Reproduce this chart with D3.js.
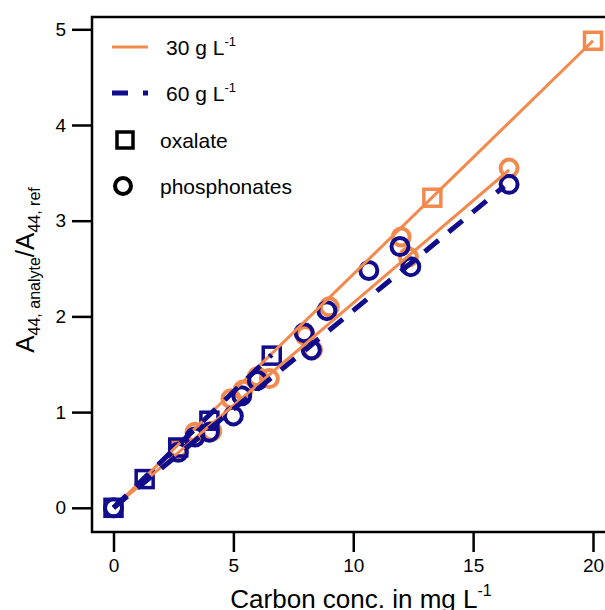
<!doctype html>
<html>
<head>
<meta charset="utf-8">
<style>
  body { margin: 0; background: #fff; }
  svg { display: block; font-family: "Liberation Sans", Arial, sans-serif; }
</style>
<script src="https://cdn.jsdelivr.net/npm/d3@7"></script>
</head>
<body>
<svg id="chart" width="605" height="610"></svg>
<script>
// data
var oxalate30X = [13.3, 20];
var oxalate30Y = [3.24, 4.88];
var oxalate60X = [0, 1.3, 2.7, 4.0, 6.6];
var oxalate60Y = [0, 0.30, 0.63, 0.91, 1.59];
var phos30X = [2.7, 3.4, 4.1, 4.9, 5.4, 6.0, 6.5, 8.0, 8.3, 9.0, 12.0, 12.3, 16.5];
var phos30Y = [0.62, 0.79, 0.80, 1.14, 1.23, 1.37, 1.35, 1.80, 1.65, 2.10, 2.83, 2.62, 3.55];
var phos60X = [0, 2.7, 3.4, 4.0, 5.0, 5.35, 6.0, 7.95, 8.25, 8.9, 10.65, 11.95, 12.4, 16.5];
var phos60Y = [0, 0.58, 0.74, 0.79, 0.96, 1.17, 1.33, 1.83, 1.65, 2.06, 2.48, 2.73, 2.52, 3.38];
// fit lines [x0, y0, x1, y1]
var fitOx30 = [0, 0, 20, 4.88];
var fitPh30 = [0, 0, 16.5, 3.53];
var fitOx60 = [0, 0, 6.6, 1.6];
var fitPh60 = [0, 0, 16.3, 3.36];
var xTicks = [0, 5, 10, 15, 20];
var yTicks = [0, 1, 2, 3, 4, 5];

var orange = "#f28a4e";
var navy = "#110c8c";

var svg = d3.select("#chart");
var frameL = 92, frameT = 17, frameB = 532, frameR = 608;

var x = d3.scaleLinear().domain([0, 20]).range([113.5, 593]);
var y = d3.scaleLinear().domain([0, 5]).range([507.8, 29.3]);

function pts(xs, ys) { return xs.map(function(v, i) { return [v, ys[i]]; }); }

// axes
var xAxis = svg.append("g").attr("transform", "translate(0," + (frameB + 1) + ")")
  .call(d3.axisBottom(x).tickValues(xTicks).tickSize(19).tickPadding(7).tickFormat(d3.format("d")));
var yAxis = svg.append("g").attr("transform", "translate(" + (frameL - 1) + ",0)")
  .call(d3.axisLeft(y).tickValues(yTicks).tickSize(19).tickPadding(6).tickFormat(d3.format("d")));
[xAxis, yAxis].forEach(function(a) {
  a.attr("font-size", 19).attr("font-family", "Liberation Sans, Arial, sans-serif");
  a.select(".domain").remove();
  a.selectAll(".tick line").attr("stroke", "#000").attr("stroke-width", 2.5);
  a.selectAll(".tick text").attr("fill", "#000");
});

svg.append("rect").attr("x", frameL).attr("y", frameT)
  .attr("width", frameR - frameL).attr("height", frameB - frameT)
  .attr("fill", "none").attr("stroke", "#000").attr("stroke-width", 2.5);

var plot = svg.append("g");

function fitLine(f, color, dash) {
  plot.append("line")
    .attr("x1", x(f[0])).attr("y1", y(f[1]))
    .attr("x2", x(f[2])).attr("y2", y(f[3]))
    .attr("stroke", color).attr("stroke-width", dash ? 5 : 3)
    .attr("stroke-dasharray", dash || null);
}
function squares(data, color) {
  plot.selectAll(null).data(data).enter().append("rect")
    .attr("x", function(d) { return x(d[0]) - 8.5; })
    .attr("y", function(d) { return y(d[1]) - 8.5; })
    .attr("width", 17).attr("height", 17)
    .attr("fill", "none").attr("stroke", color).attr("stroke-width", 3.5);
}
function circles(data, color) {
  plot.selectAll(null).data(data).enter().append("circle")
    .attr("cx", function(d) { return x(d[0]); })
    .attr("cy", function(d) { return y(d[1]); })
    .attr("r", 8.5)
    .attr("fill", "none").attr("stroke", color).attr("stroke-width", 4);
}

circles(pts(phos30X, phos30Y), orange);
squares(pts(oxalate30X, oxalate30Y), orange);
circles(pts(phos60X, phos60Y), navy);
squares(pts(oxalate60X, oxalate60Y), navy);
fitLine(fitOx30, orange);
fitLine(fitPh30, orange);
fitLine(fitOx60, navy, "18,13");
fitLine(fitPh60, navy, "18,13");

// legend
var lg = svg.append("g");
lg.append("line").attr("x1", 112).attr("x2", 148).attr("y1", 47).attr("y2", 47)
  .attr("stroke", orange).attr("stroke-width", 3);
lg.append("line").attr("x1", 112).attr("x2", 148).attr("y1", 93).attr("y2", 93)
  .attr("stroke", navy).attr("stroke-width", 5).attr("stroke-dasharray", "16,15");
lg.append("rect").attr("x", 117).attr("y", 132).attr("width", 16).attr("height", 16)
  .attr("fill", "none").attr("stroke", "#000").attr("stroke-width", 3.5);
lg.append("circle").attr("cx", 123).attr("cy", 186).attr("r", 8)
  .attr("fill", "none").attr("stroke", "#000").attr("stroke-width", 4);

function unitText(g, tx, ty, main) {
  var t = g.append("text").attr("x", tx).attr("y", ty).attr("font-size", 21).attr("fill", "#000");
  t.append("tspan").text(main);
  t.append("tspan").attr("font-size", 13).attr("dy", -9).text("-1");
  return t;
}
unitText(lg, 166, 55, "30 g L");
unitText(lg, 166, 101, "60 g L");
lg.append("text").attr("x", 160).attr("y", 148).attr("font-size", 21).text("oxalate");
lg.append("text").attr("x", 160).attr("y", 194).attr("font-size", 21).text("phosphonates");

// axis titles
var xt = svg.append("text").attr("x", 361).attr("y", 608).attr("text-anchor", "middle")
  .attr("font-size", 26).attr("fill", "#000");
xt.append("tspan").text("Carbon conc. in mg L");
xt.append("tspan").attr("font-size", 16).attr("dy", -12).text("-1");

var yt = svg.append("text").attr("transform", "translate(34,270) rotate(-90)")
  .attr("text-anchor", "middle").attr("font-size", 26).attr("fill", "#000");
yt.append("tspan").text("A");
yt.append("tspan").attr("font-size", 16).attr("dy", 6).text("44, analyte");
yt.append("tspan").attr("dy", -6).text("/A");
yt.append("tspan").attr("font-size", 16).attr("dy", 6).text("44, ref");
</script>
</body>
</html>
